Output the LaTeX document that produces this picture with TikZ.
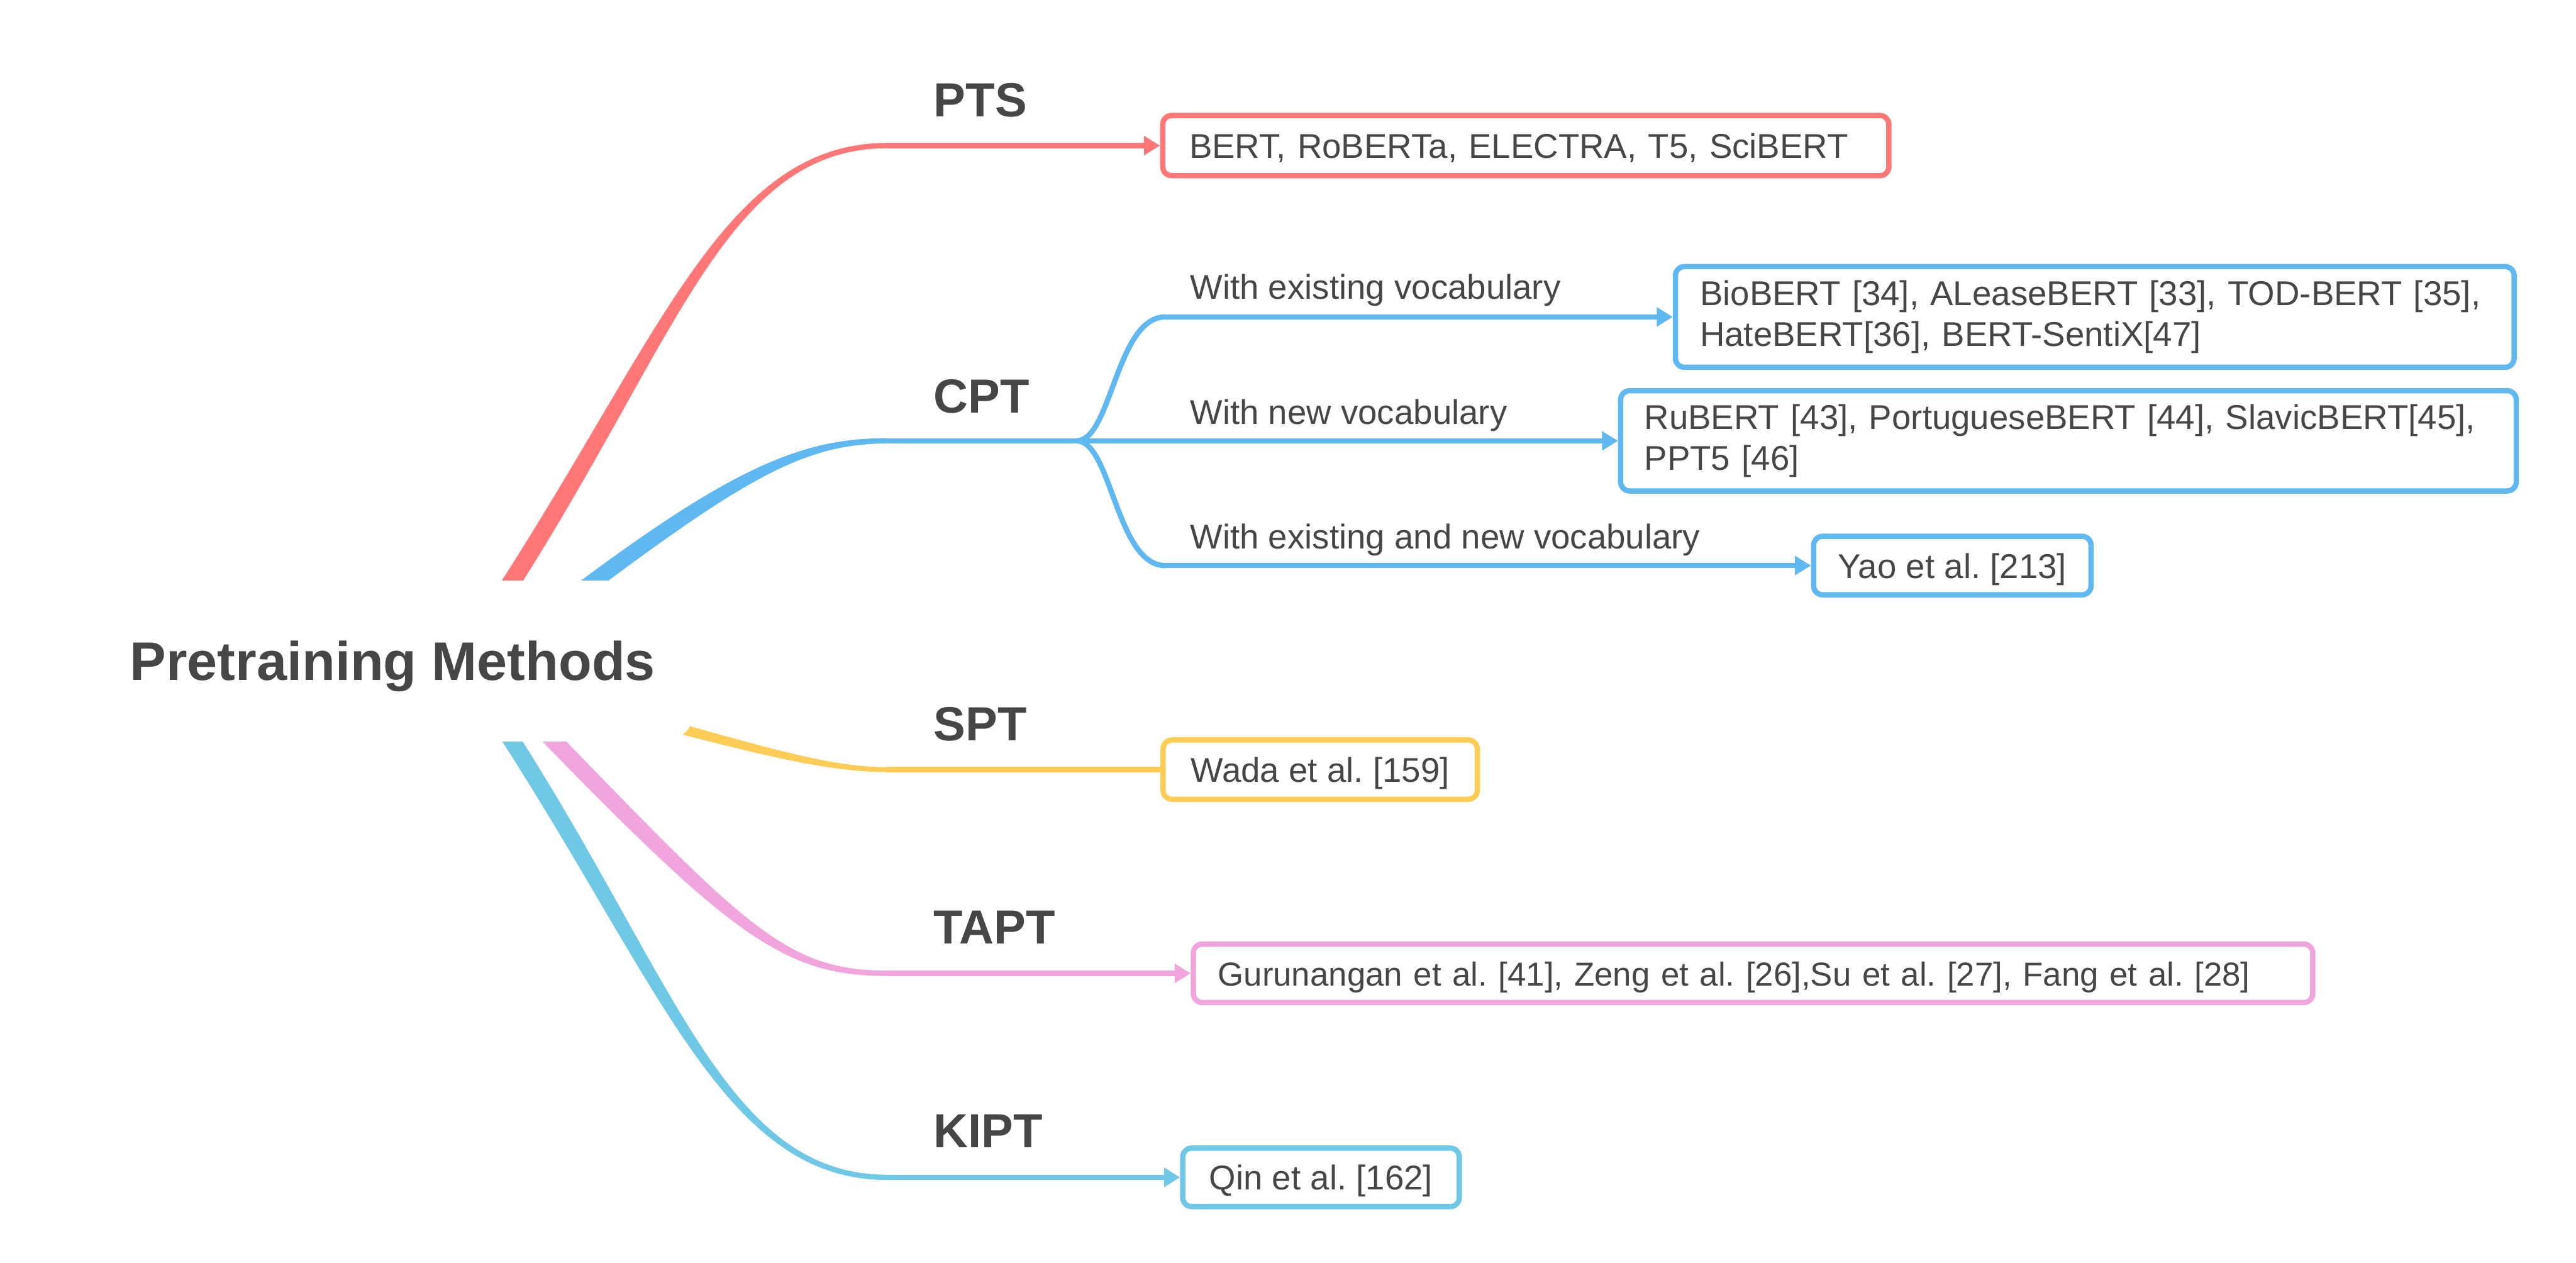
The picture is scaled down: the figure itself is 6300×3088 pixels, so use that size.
\documentclass[tikz,border=0pt]{standalone}
\usepackage{fontspec}
\setmainfont{Liberation Sans}
\usetikzlibrary{arrows.meta,calc}
\pgfdeclarelayer{bg}
\pgfsetlayers{bg,main}
\definecolor{txt}{HTML}{464646}
\definecolor{cpts}{HTML}{FF7777}
\definecolor{ccpt}{HTML}{60B8F0}
\definecolor{cspt}{HTML}{FFCC55}
\definecolor{ctapt}{HTML}{F0A6DC}
\definecolor{ckipt}{HTML}{6EC8E6}
% tapered branch: #1 colour, #2 start, #3 ctrl1, #4 ctrl2, #5 end, #6 start normal (half width), #7 end half width
\newcommand\taperband[7]{%
  \fill[#1] ($#2+(#6)$) .. controls ($#3+(#6)$) and ($#4+(0,-#7)$) .. ($#5+(0,-#7)$)
    -- ($#5+(0,#7)$) .. controls ($#4+(0,#7)$) and ($#3-(#6)$) .. ($#2-(#6)$) -- cycle;}
\tikzset{
  lbl/.style={anchor=base west, inner sep=0pt, text=txt, font=\bfseries\fontsize{33.3pt}{40pt}\selectfont},
  sublbl/.style={anchor=base west, inner sep=0pt, text=txt, font=\fontsize{23.9pt}{28.45pt}\selectfont},
  refbox/.style={draw=#1, line width=0.13cm, rounded corners=0.22cm, fill=white, text=txt,
    font=\fontsize{23.9pt}{28.45pt}\selectfont, anchor=west, inner sep=0pt},
  onebox/.style={text height=0.61cm, text depth=0cm},
  link/.style={draw=#1, line width=0.13cm},
  arrowlink/.style={link=#1, -{Triangle[length=0.39cm,width=0.45cm]}},
}
\begin{document}
\frenchspacing
\begin{tikzpicture}[x=0.01cm,y=-0.01cm]
\useasboundingbox (0,0) rectangle (6300,3088);

% root
\node[fill=white, inner sep=0pt, minimum width=14.8cm, minimum height=3.93cm, rounded corners=0.8cm,
  text=txt, font=\bfseries\fontsize{37.8pt}{45pt}\selectfont, text height=0.95cm, text depth=0cm]
  (root) at (960,1616.5) {Pretraining Methods};

% branch labels
\node[lbl] (pts)  at (2283,285)  {PTS};
\node[lbl] (cpt)  at (2283,1009) {CPT};
\node[lbl] (spt)  at (2283,1811) {SPT};
\node[lbl] (tapt) at (2283,2308) {TAPT};
\node[lbl] (kipt) at (2283,2806) {KIPT};

% sub labels
\node[sublbl] (l1) at (2910,732)  {With existing vocabulary};
\node[sublbl] (l2) at (2910,1037) {With new vocabulary};
\node[sublbl] (l3) at (2910,1342) {With existing and new vocabulary};

% boxes
\node[refbox=cpts, onebox, text width=16.45cm, inner xsep=0.65cm, align=left, minimum height=1.47cm] (ptsbox) at (2837,356)
  {BERT, RoBERTa, ELECTRA, T5, SciBERT};
\node[refbox=ccpt, minimum height=2.46cm, text width=19.30cm, inner xsep=0.60cm, align=left] (vb1) at (4091,775)
  {BioBERT [34], ALeaseBERT [33], TOD-BERT [35],\\HateBERT[36], BERT-SentiX[47]};
\node[refbox=ccpt, minimum height=2.45cm, text width=20.73cm, inner xsep=0.58cm, align=left] (vb2) at (3957,1078)
  {RuBERT [43], PortugueseBERT [44], SlavicBERT[45],\\PPT5 [46]};
\node[refbox=ccpt, onebox, minimum width=6.78cm, minimum height=1.43cm] (vb3) at (4429,1383)
  {Yao et al. [213]};
\node[refbox=cspt, onebox, minimum width=7.68cm, minimum height=1.45cm] (sptbox) at (2838,1882)
  {Wada et al. [159]};
\node[refbox=ctapt, onebox, font=\fontsize{23.1pt}{27.5pt}\selectfont, text width=26.16cm, inner xsep=0.6cm, align=left, minimum height=1.43cm] (taptbox) at (2912,2380)
  {Gurunangan et al. [41], Zeng et al. [26],Su et al. [27], Fang et al. [28]};
\node[refbox=ckipt, onebox, minimum width=6.76cm, minimum height=1.43cm] (kiptbox) at (2886,2879)
  {Qin et al. [162]};

% branch end points
\coordinate (ptsE)  at (2170,356);
\coordinate (cptE)  at (2170,1078);
\coordinate (fork)  at (2633,1078);
\coordinate (upE)   at (2850,775);
\coordinate (loE)   at (2850,1383);
\coordinate (sptE)  at (2170,1882);
\coordinate (taptE) at (2170,2380);
\coordinate (kiptE) at (2170,2879);

% tapered main branches (behind the root)
\begin{pgfonlayer}{bg}
\taperband{cpts}{(1221,1470)}{(1636,833)}{(1770,356)}{(ptsE)}{-18.5,-12}{6.5}
\taperband{ccpt}{(1406,1456)}{(1814,1149)}{(1970,1078)}{(cptE)}{-12,-16}{6.5}
\taperband{cspt}{(1500,1740)}{(1800,1815)}{(2000,1882)}{(sptE)}{3.2,-12.6}{6}
\taperband{ctapt}{(1314,1770)}{(1808,2280)}{(1920,2380)}{(taptE)}{15.1,-14.6}{6.5}
\taperband{ckipt}{(1221,1763)}{(1636,2400)}{(1770,2879)}{(kiptE)}{17.6,-11.4}{6.5}
\end{pgfonlayer}

% connectors
\draw[arrowlink=cpts] (ptsE) -- (ptsbox.west);
\draw[arrowlink=ccpt] (cptE) -- (vb2.west);
\draw[link=ccpt] (fork) .. controls (2718,1078) and (2730,775) .. (upE);
\draw[arrowlink=ccpt] (upE) -- (vb1.west);
\draw[link=ccpt] (fork) .. controls (2718,1078) and (2730,1383) .. (loE);
\draw[arrowlink=ccpt] (loE) -- (vb3.west);
\draw[link=cspt] (sptE) -- (sptbox.west);
\draw[arrowlink=ctapt] (taptE) -- (taptbox.west);
\draw[arrowlink=ckipt] (kiptE) -- (kiptbox.west);
\end{tikzpicture}
\end{document}
